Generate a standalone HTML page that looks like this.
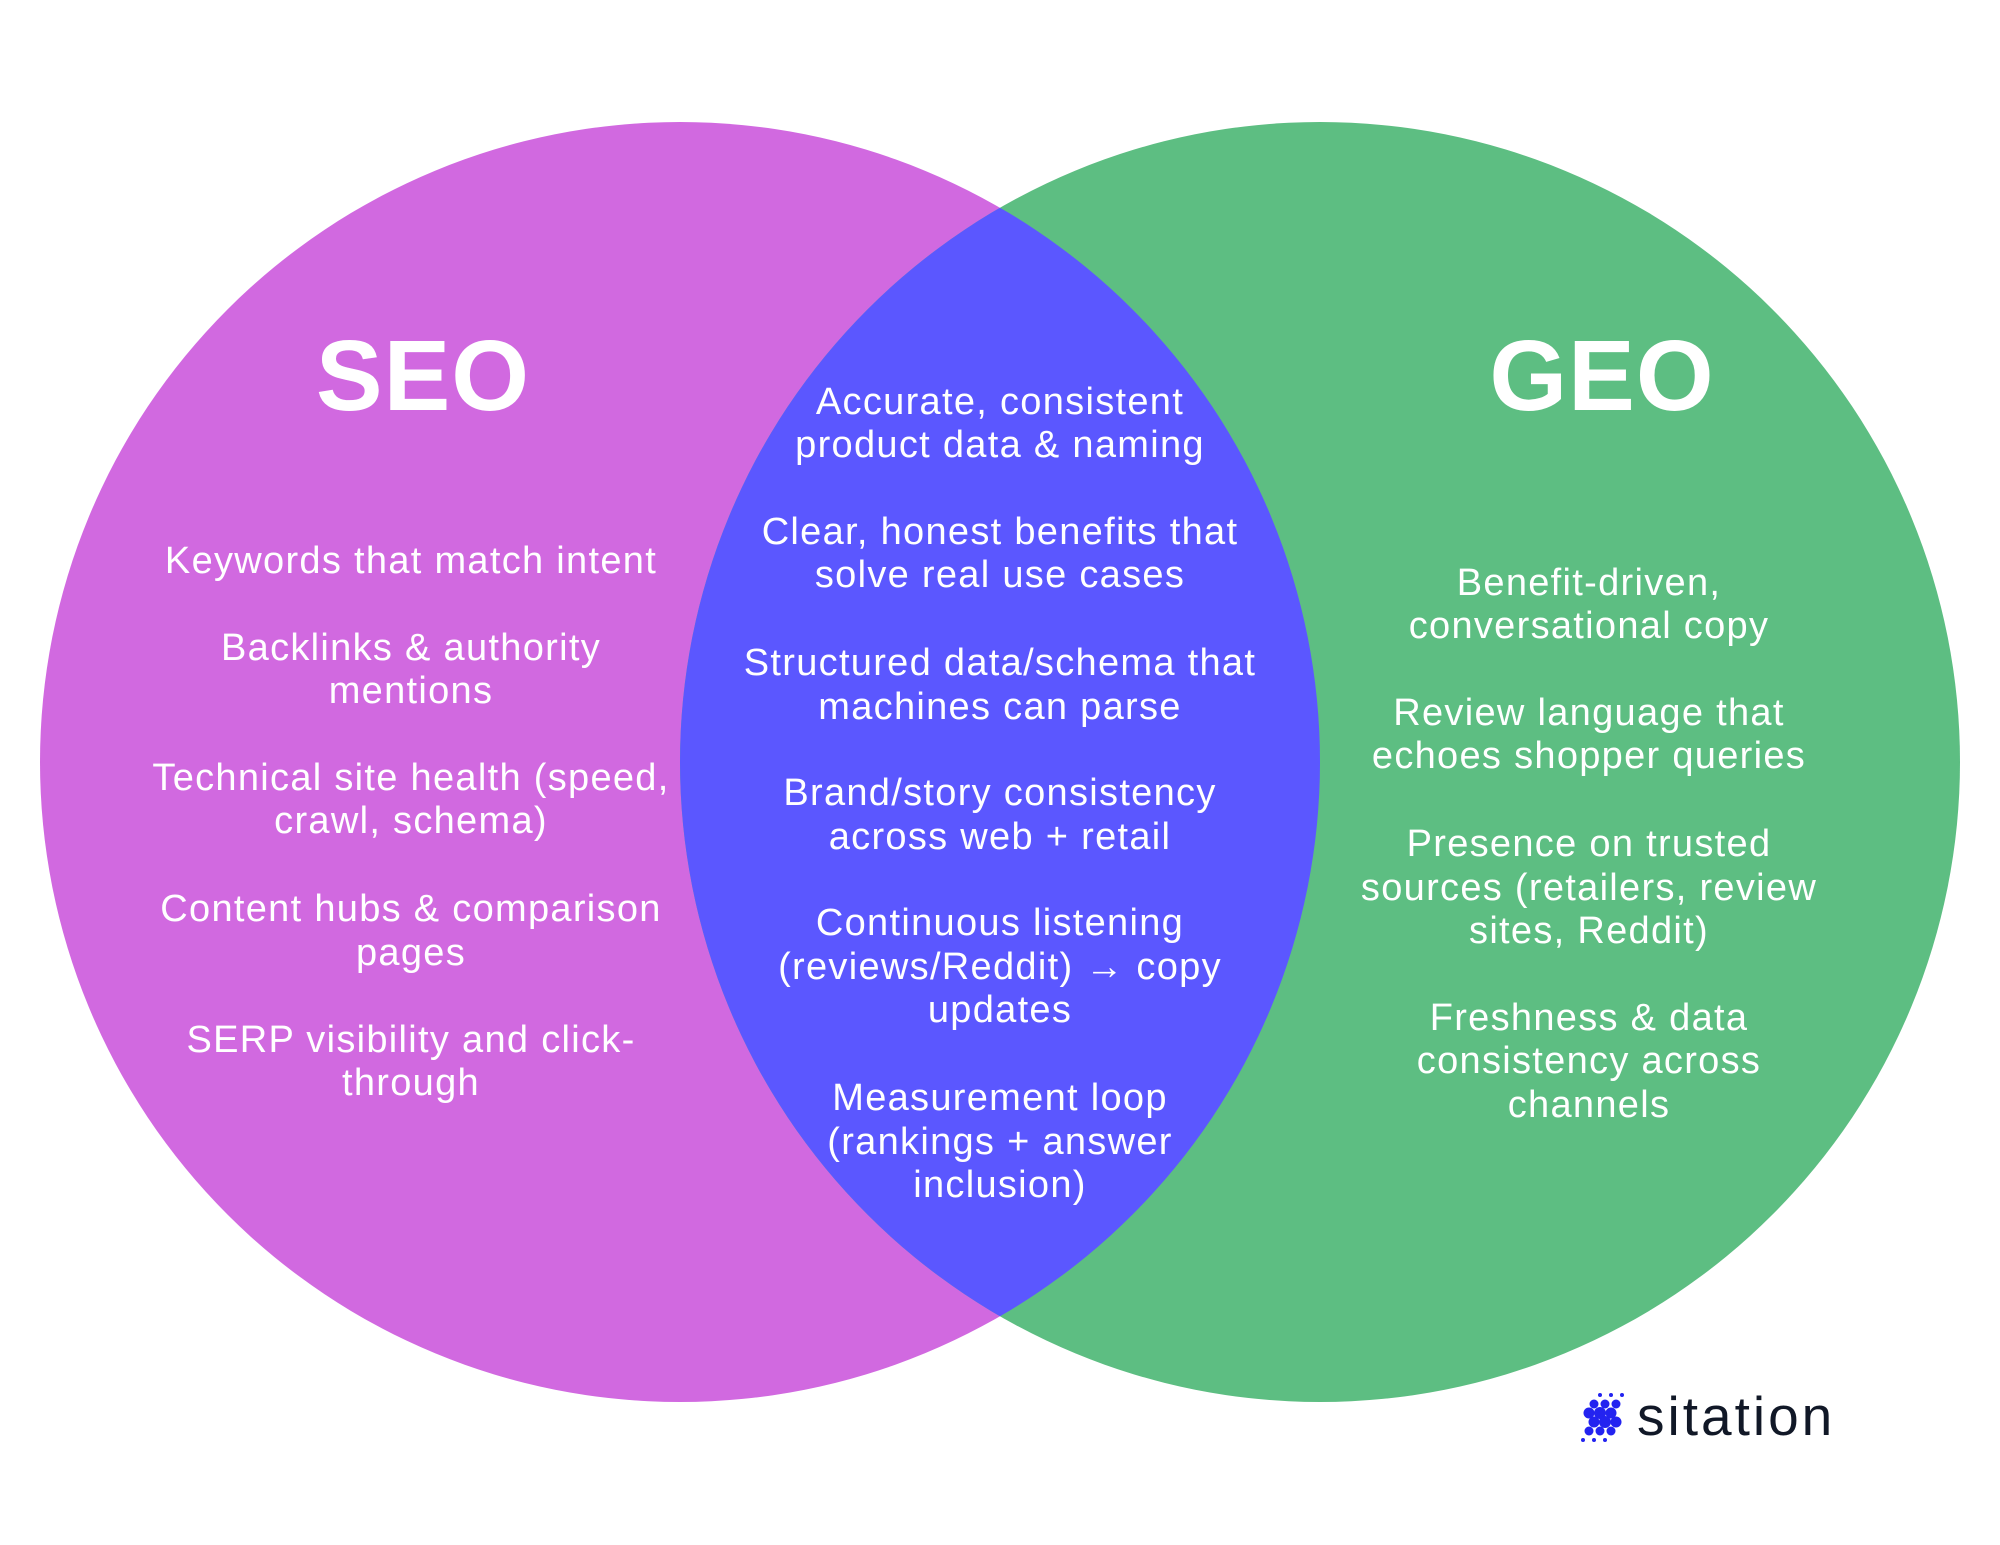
<!DOCTYPE html>
<html><head><meta charset="utf-8"><style>
html,body{margin:0;padding:0;background:#fff;}
body{width:2000px;height:1545px;position:relative;overflow:hidden;font-family:"Liberation Sans",sans-serif;}
.l{position:absolute;width:700px;height:44px;line-height:44px;text-align:center;color:#fff;font-size:38px;letter-spacing:1.3px;white-space:nowrap;}
.t{position:absolute;width:600px;text-align:center;color:#fff;font-weight:bold;font-size:100px;line-height:120px;letter-spacing:1px;}
</style></head><body>
<svg width="2000" height="1545" style="position:absolute;left:0;top:0">
<defs><clipPath id="c"><circle cx="680" cy="762" r="640"/></clipPath></defs>
<circle cx="680" cy="762" r="640" fill="#D169E0"/>
<circle cx="1320" cy="762" r="640" fill="#5DBE82"/>
<circle cx="1320" cy="762" r="640" fill="#5B57FF" clip-path="url(#c)"/>
<g fill="#2323F0">
<circle cx="1600" cy="1395" r="2"/><circle cx="1611" cy="1395" r="2"/><circle cx="1622" cy="1395" r="2"/>
<circle cx="1594" cy="1404" r="4.5"/><circle cx="1605" cy="1404" r="4.5"/><circle cx="1616" cy="1404" r="4.5"/>
<circle cx="1589" cy="1413" r="5.5"/><circle cx="1600" cy="1413" r="6"/><circle cx="1611" cy="1413" r="5.5"/>
<circle cx="1594" cy="1422" r="5.5"/><circle cx="1605" cy="1422" r="6"/><circle cx="1616" cy="1422" r="5.5"/>
<circle cx="1589" cy="1431" r="4.5"/><circle cx="1600" cy="1431" r="4.5"/><circle cx="1611" cy="1431" r="4.5"/>
<circle cx="1583" cy="1440" r="2"/><circle cx="1594" cy="1440" r="2"/><circle cx="1605" cy="1440" r="2"/>
</g>
<text x="1637" y="1435" font-family="Liberation Sans, sans-serif" font-size="55" letter-spacing="3" fill="#111827">sitation</text>
</svg>
<div class="t" style="left:123px;top:316px">SEO</div>
<div class="t" style="left:1302px;top:316px">GEO</div>

<div class="l" style="left:61px;top:539px">Keywords that match intent</div>
<div class="l" style="left:61px;top:626px">Backlinks &amp; authority</div>
<div class="l" style="left:61px;top:669px">mentions</div>
<div class="l" style="left:61px;top:756px">Technical site health (speed,</div>
<div class="l" style="left:61px;top:799px">crawl, schema)</div>
<div class="l" style="left:61px;top:887px">Content hubs &amp; comparison</div>
<div class="l" style="left:61px;top:931px">pages</div>
<div class="l" style="left:61px;top:1018px">SERP visibility and click-</div>
<div class="l" style="left:61px;top:1061px">through</div>

<div class="l" style="left:650px;top:380px">Accurate, consistent</div>
<div class="l" style="left:650px;top:423px">product data &amp; naming</div>
<div class="l" style="left:650px;top:510px">Clear, honest benefits that</div>
<div class="l" style="left:650px;top:553px">solve real use cases</div>
<div class="l" style="left:650px;top:641px">Structured data/schema that</div>
<div class="l" style="left:650px;top:685px">machines can parse</div>
<div class="l" style="left:650px;top:771px">Brand/story consistency</div>
<div class="l" style="left:650px;top:815px">across web + retail</div>
<div class="l" style="left:650px;top:901px">Continuous listening</div>
<div class="l" style="left:650px;top:945px">(reviews/Reddit) → copy</div>
<div class="l" style="left:650px;top:988px">updates</div>
<div class="l" style="left:650px;top:1076px">Measurement loop</div>
<div class="l" style="left:650px;top:1120px">(rankings + answer</div>
<div class="l" style="left:650px;top:1163px">inclusion)</div>

<div class="l" style="left:1239px;top:561px">Benefit-driven,</div>
<div class="l" style="left:1239px;top:604px">conversational copy</div>
<div class="l" style="left:1239px;top:691px">Review language that</div>
<div class="l" style="left:1239px;top:734px">echoes shopper queries</div>
<div class="l" style="left:1239px;top:822px">Presence on trusted</div>
<div class="l" style="left:1239px;top:866px">sources (retailers, review</div>
<div class="l" style="left:1239px;top:909px">sites, Reddit)</div>
<div class="l" style="left:1239px;top:996px">Freshness &amp; data</div>
<div class="l" style="left:1239px;top:1039px">consistency across</div>
<div class="l" style="left:1239px;top:1083px">channels</div>
</body></html>
